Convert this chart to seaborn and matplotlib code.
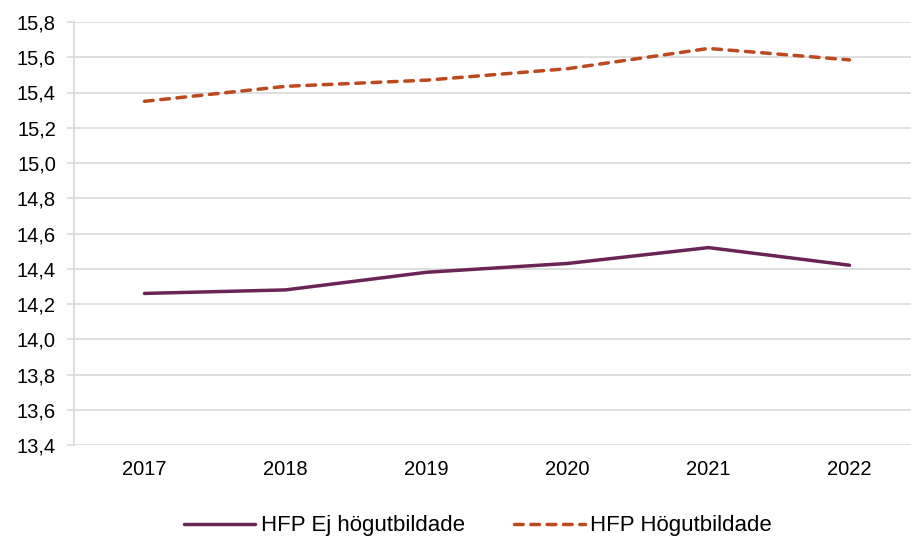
import matplotlib
matplotlib.use("Agg")
import matplotlib.pyplot as plt
import seaborn as sns
import pandas as pd
from matplotlib.ticker import FuncFormatter, MultipleLocator

years = ["2017", "2018", "2019", "2020", "2021", "2022"]
ej_hogutbildade = [14.26, 14.28, 14.38, 14.43, 14.52, 14.42]
hogutbildade = [15.35, 15.435, 15.47, 15.535, 15.65, 15.585]
series_names = ["HFP Ej högutbildade", "HFP Högutbildade"]

df = pd.DataFrame({
    "year": years * 2,
    "value": ej_hogutbildade + hogutbildade,
    "series": [series_names[0]] * len(years) + [series_names[1]] * len(years),
})

sns.set_style("white")
plt.rcParams["font.family"] = ["Liberation Sans", "DejaVu Sans"]
plt.rcParams["text.color"] = "black"

fig = plt.figure(figsize=(9.11, 5.42), dpi=100)
ax = fig.add_axes([74 / 911, 1 - 445 / 542, (920 - 74) / 911, (445 - 22) / 542])

palette = {series_names[0]: "#6B2458", series_names[1]: "#BC4A1E"}
dash_pat = (2.5, 2.2)
dashes = {series_names[0]: "", series_names[1]: dash_pat}
sns.lineplot(data=df, x="year", y="value", hue="series", style="series",
             palette=palette, dashes=dashes, linewidth=2.5, ax=ax,
             legend=False, sort=False)
for line in ax.get_lines():
    line.set_dash_capstyle("round")
    line.set_solid_capstyle("round")

ax.set_xlim(-0.5, 5.5)
ax.set_ylim(13.4, 15.8)
ax.yaxis.set_major_locator(MultipleLocator(0.2))
ax.yaxis.set_major_formatter(FuncFormatter(lambda v, p: f"{v:.1f}".replace(".", ",")))
ax.grid(True, axis="y", color="#D9D9D9", linewidth=1.2)
ax.set_axisbelow(True)

for side in ["top", "right", "bottom"]:
    ax.spines[side].set_visible(False)
ax.spines["left"].set_color("#D9D9D9")
ax.spines["left"].set_linewidth(1.2)

ax.tick_params(axis="y", which="major", length=5, width=1.2, color="#D9D9D9",
               labelsize=14.5, pad=8, labelcolor="black", left=True)
ax.tick_params(axis="x", length=0, labelsize=14.5, pad=11, labelcolor="black")
ax.set_xlabel("")
ax.set_ylabel("")

handles = [
    plt.Line2D([], [], color=palette[series_names[0]], linewidth=2.5, solid_capstyle="round"),
    plt.Line2D([], [], color=palette[series_names[1]], linewidth=2.5,
               linestyle=(0, dash_pat), dash_capstyle="round"),
]
fig.legend(handles, series_names, loc="center", bbox_to_anchor=(478 / 911, 1 - 526 / 542),
           ncol=2, frameon=False, fontsize=16, handlelength=3.2, handletextpad=0.25,
           columnspacing=2.2, labelcolor="black")

fig.savefig("out.png", dpi=100)
